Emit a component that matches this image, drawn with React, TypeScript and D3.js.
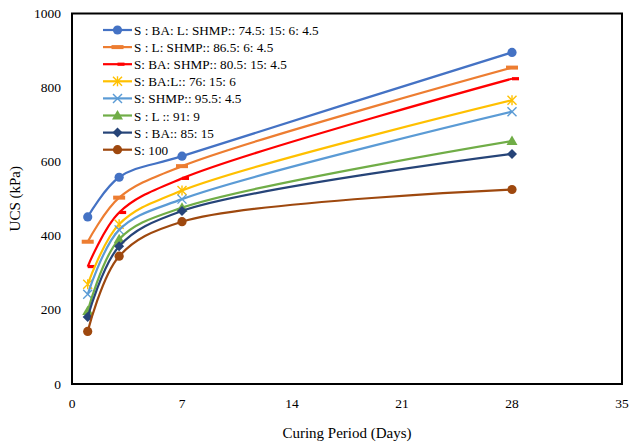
import React from "react";
import * as d3 from "d3";

const days = [1, 3, 7, 28];
const seriesNames = [
  "S : BA: L: SHMP:: 74.5: 15: 6: 4.5",
  "S : L: SHMP:: 86.5: 6: 4.5",
  "S: BA: SHMP:: 80.5: 15: 4.5",
  "S: BA:L:: 76: 15: 6",
  "S: SHMP:: 95.5: 4.5",
  "S : L :: 91: 9",
  "S : BA:: 85: 15",
  "S: 100",
];
const sBaLShmp = [451, 558, 615, 895];
const sLShmp = [384, 503, 588, 854];
const sBaShmp = [317, 463, 555, 824];
const sBaL = [269, 431, 522, 766];
const sShmp = [242, 416, 499, 735];
const sL = [197, 391, 476, 656];
const sBa = [181, 372, 467, 621];
const s100 = [142, 345, 438, 525];
const seriesValues = [sBaLShmp, sLShmp, sBaShmp, sBaL, sShmp, sL, sBa, s100];
const colors = ["#4472C4", "#ED7D31", "#FF0000", "#FFC000", "#5B9BD5", "#70AD47", "#264478", "#9E480E"];
const markers = ["circle", "longdash", "shortdash", "star", "x", "triangle", "diamond", "circle"];
const xTicks = [0, 7, 14, 21, 28, 35];
const yTicks = [0, 200, 400, 600, 800, 1000];

const W = 629;
const H = 443;
const left = 72;
const right = 622;
const top = 13.5;
const bottom = 384;
const font = "Liberation Serif";

function Marker({ type, x, y, color }: { type: string; x: number; y: number; color: string }) {
  switch (type) {
    case "circle":
      return <circle cx={x} cy={y} r={4.6} fill={color} />;
    case "longdash":
      return <rect x={x - 6} y={y - 2} width={12} height={4} fill={color} />;
    case "shortdash":
      return <rect x={x} y={y - 1.6} width={7} height={3.2} fill={color} />;
    case "star":
      return (
        <g stroke={color} strokeWidth={1.4}>
          <line x1={x - 4.5} y1={y - 4.5} x2={x + 4.5} y2={y + 4.5} />
          <line x1={x - 4.5} y1={y + 4.5} x2={x + 4.5} y2={y - 4.5} />
          <line x1={x} y1={y - 5} x2={x} y2={y + 5} />
        </g>
      );
    case "x":
      return (
        <g stroke={color} strokeWidth={1.4}>
          <line x1={x - 4.5} y1={y - 4.5} x2={x + 4.5} y2={y + 4.5} />
          <line x1={x - 4.5} y1={y + 4.5} x2={x + 4.5} y2={y - 4.5} />
        </g>
      );
    case "triangle":
      return <path d={`M${x},${y - 5.5}L${x + 5.5},${y + 4}L${x - 5.5},${y + 4}Z`} fill={color} />;
    case "diamond":
      return <path d={`M${x},${y - 5}L${x + 5},${y}L${x},${y + 5}L${x - 5},${y}Z`} fill={color} />;
    default:
      return null;
  }
}

export default function App() {
  const x = d3.scaleLinear().domain([0, 35]).range([left, right]);
  const y = d3.scaleLinear().domain([0, 1000]).range([bottom, top]);
  const line = d3
    .line<[number, number]>()
    .x((d) => x(d[0]))
    .y((d) => y(d[1]))
    .curve(d3.curveCatmullRom.alpha(0.5));

  const legendX = 103;
  const legendY0 = 30;
  const legendDy = 17.1;
  const ts = { fontFamily: font };

  return (
    <svg width={W} height={H} style={{ position: "absolute", left: 0, top: 0, background: "#fff" }}>
      <rect x={0} y={0} width={W} height={H} fill="#fff" />
      {seriesValues.map((vals, i) => {
        const pts = days.map((d, j) => [d, vals[j]] as [number, number]);
        return (
          <g key={i}>
            <path d={line(pts) || ""} fill="none" stroke={colors[i]} strokeWidth={2.2} />
            {pts.map((p, j) => (
              <Marker key={j} type={markers[i]} x={x(p[0])} y={y(p[1])} color={colors[i]} />
            ))}
          </g>
        );
      })}
      <rect x={left} y={top} width={right - left} height={bottom - top} fill="none" stroke="#000" strokeWidth={2} />
      {yTicks.map((t) => (
        <text key={t} x={left - 11} y={y(t) + 4.5} textAnchor="end" fontSize={13.5} style={ts}>
          {t}
        </text>
      ))}
      {xTicks.map((t) => (
        <text key={t} x={x(t)} y={bottom + 24} textAnchor="middle" fontSize={13.5} style={ts}>
          {t}
        </text>
      ))}
      <text x={347} y={438} textAnchor="middle" fontSize={15} style={ts}>
        Curing Period (Days)
      </text>
      <text transform={`translate(20,${(top + bottom) / 2}) rotate(-90)`} textAnchor="middle" fontSize={15} style={ts}>
        UCS (kPa)
      </text>
      {seriesNames.map((name, i) => {
        const ly = legendY0 + i * legendDy;
        return (
          <g key={name}>
            <line x1={legendX} x2={legendX + 29} y1={ly} y2={ly} stroke={colors[i]} strokeWidth={2.2} />
            <Marker type={markers[i]} x={legendX + 14.5} y={ly} color={colors[i]} />
            <text x={legendX + 31} y={ly + 5} fontSize={13.2} style={ts}>
              {name}
            </text>
          </g>
        );
      })}
    </svg>
  );
}
